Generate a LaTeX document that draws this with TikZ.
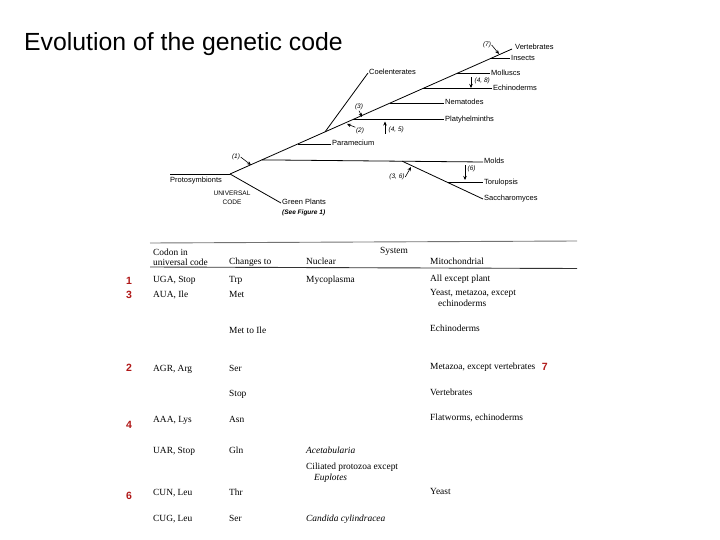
\documentclass[tikz,border=0pt]{standalone}
\usepackage{fontspec}
\setmainfont{Liberation Serif}
\setsansfont{Liberation Sans}
\usetikzlibrary{arrows.meta,positioning,calc}
\definecolor{numred}{HTML}{B01818}

\begin{document}
\begin{tikzpicture}[x=1pt, y=-1pt,
  branch/.style={line width=0.8pt},
  twig/.style={line width=0.6pt},
  taxon/.style={anchor=west, inner sep=1pt, text height=5.5pt, text depth=1.5pt, font=\sffamily\fontsize{7.5}{8}\selectfont},
  note/.style={inner sep=0.5pt, font=\sffamily\itshape\fontsize{6.5}{7}\selectfont},
  hint/.style={-{Stealth[length=4pt,width=3.5pt]}, line width=0.6pt},
  cell/.style={anchor=west, inner sep=0pt, align=left, text height=6.5pt, text depth=2pt, font=\fontsize{9.4}{11}\selectfont},
  rule/.style={line width=0.9pt, color=black!80},
  rownum/.style={inner sep=0pt, font=\sffamily\bfseries\fontsize{10.5}{10}\selectfont, text=numred}
]
\useasboundingbox (0,0) rectangle (720,540);

\node[anchor=west, inner sep=0pt, font=\sffamily\fontsize{24.8}{26}\selectfont] (title) at (24,44) {Evolution of the genetic code};

% tree
\coordinate (root) at (230,174);
\coordinate (vtip) at (512,49);
\coordinate (pend) at (170,174);
\coordinate (jmold) at ($(root)!0.113!(vtip)$);
\coordinate (jpar) at ($(root)!0.241!(vtip)$);
\coordinate (jcoe) at ($(root)!0.337!(vtip)$);
\coordinate (jpla) at ($(root)!0.436!(vtip)$);
\coordinate (jnem) at ($(root)!0.567!(vtip)$);
\coordinate (jech) at ($(root)!0.684!(vtip)$);
\coordinate (jmol) at ($(root)!0.805!(vtip)$);
\coordinate (jins) at ($(root)!0.922!(vtip)$);

\node[taxon] (vert) at (514,48) {Vertebrates};
\node[taxon] (ins) at (510,59) {Insects};
\node[taxon] (mol) at (490,73.5) {Molluscs};
\node[taxon] (ech) at (492,88.5) {Echinoderms};
\node[taxon] (nem) at (444,103) {Nematodes};
\node[taxon] (pla) at (444,119.5) {Platyhelminths};
\node[taxon] (coe) at (368,73) {Coelenterates};
\node[taxon] (par) at (331,144) {Paramecium};
\node[taxon] (molds) at (483,162) {Molds};
\node[taxon] (tor) at (483,182.7) {Torulopsis};
\node[taxon] (sac) at (483,199) {Saccharomyces};
\node[taxon] (proto) at (169,181) {Protosymbionts};
\node[taxon] (green) at (281,203) {Green Plants};
\node[taxon, font=\sffamily\bfseries\itshape\fontsize{6.5}{7}\selectfont, below=0.5pt of green.south west, anchor=north west] (seefig) {(See Figure 1)};
\node[inner sep=0pt, align=center, font=\sffamily\fontsize{6.5}{9}\selectfont] (ucode) at (232,198) {UNIVERSAL\\CODE};

\draw[branch] (pend) -- (root);
\draw[branch] (root) -- (vtip);
\draw[branch] (root) -- (green.west);
\draw[twig] (jins) -- (jins -| ins.west);
\draw[twig] (jmol) -- (jmol -| mol.west);
\draw[twig] (jech) -- (jech -| ech.west);
\draw[twig] (jnem) -- (jnem -| nem.west);
\draw[twig] (jpla) -- (jpla -| pla.west);
\draw[twig] (jpar) -- (jpar -| par.west);
\draw[branch] (jcoe) -- (coe.west);
\draw[branch] (jmold) -- (molds.west);
\coordinate (jsac) at ($(jmold)!0.635!(molds.west)$);
\draw[branch] (jsac) -- (sac.west);
\coordinate (jtor) at ($(jsac)!0.57!(sac.west)$);
\draw[twig] (jtor) -- (jtor -| tor.west);

% change markers
\node[note] (n1) at (236,157) {(1)};
\coordinate (t1) at (251,165);
\draw[hint] (n1.east) -- (t1);
\node[note] (n2) at (360,131) {(2)};
\coordinate (t2) at (347,124);
\draw[hint] (n2.north west) -- (t2);
\node[note] (n3) at (359,107) {(3)};
\coordinate (t3) at (362,117);
\draw[hint] (n3.south) -- (t3);
\node[note, anchor=west] (n45) at (388,130) {(4, 5)};
\coordinate (t45) at (385,121.5);
\draw[hint] (t45 |- n45.south) -- (t45);
\node[note, anchor=west] (n48) at (474,81) {(4, 8)};
\coordinate (t48) at (471,88);
\draw[hint] (t48 |- n48.north) -- (t48);
\node[note] (n7) at (487,45) {(7)};
\coordinate (t7) at (499,54);
\draw[hint] (n7.east) -- (t7);
\node[note, anchor=west] (n6) at (467,169) {(6)};
\coordinate (t6) at (465,180);
\draw[hint] (t6 |- n6.north) -- (t6);
\node[note] (n36) at (397,177) {(3, 6)};
\coordinate (t36) at (411,167);
\draw[hint] (n36.east) -- (t36);

% table
\coordinate (toprl) at (150,243);
\coordinate (toprr) at (577,241);
\coordinate (midrl) at (150,267);
\coordinate (midrr) at (577,268.5);
\draw[rule, color=black!55] (toprl) -- (toprr);
\draw[rule] (midrl) -- (midrr);

\node[cell, anchor=south west, text height=, text depth=, font=\fontsize{9.4}{10}\selectfont] (hcod) at (153,266) {Codon in\\universal code};
\node[cell] (hchg) at (229,262) {Changes to};
\node[cell] (hnuc) at (306,262) {Nuclear};
\node[cell] (hsys) at (380,251) {System};
\node[cell] (hmit) at (430,262) {Mitochondrial};

\node[cell] (cod1) at (153,280) {UGA, Stop};
\node[cell] (chg1) at (229,280) {Trp};
\node[cell] (nuc1) at (306,280) {Mycoplasma};
\node[cell] (mit1) at (430,279) {All except plant};

\node[cell] (cod2) at (153,295) {AUA, Ile};
\node[cell] (chg2) at (229,295) {Met};
\node[cell, anchor=north west, text height=] (mit2) at (430,289.5) {Yeast, metazoa, except\\\hspace*{8pt}echinoderms};

\node[cell] (chg3) at (229,331) {Met to Ile};
\node[cell] (mit3) at (430,329) {Echinoderms};

\node[cell] (cod4) at (153,369) {AGR, Arg};
\node[cell] (chg4) at (229,369) {Ser};
\node[cell] (mit4) at (430,367) {Metazoa, except vertebrates};

\node[cell] (chg5) at (229,394) {Stop};
\node[cell] (mit5) at (430,393) {Vertebrates};

\node[cell] (cod6) at (153,420) {AAA, Lys};
\node[cell] (chg6) at (229,420) {Asn};
\node[cell] (mit6) at (430,418) {Flatworms, echinoderms};

\node[cell] (cod7) at (153,451) {UAR, Stop};
\node[cell] (chg7) at (229,451) {Gln};
\node[cell] (nuc7) at (306,451) {\itshape Acetabularia};
\node[cell, anchor=north west, text height=] (nuc7b) at (306,462.5) {Ciliated protozoa except\\\hspace*{8pt}\itshape Euplotes};

\node[cell] (cod8) at (153,493) {CUN, Leu};
\node[cell] (chg8) at (229,493) {Thr};
\node[cell] (mit8) at (430,492) {Yeast};

\node[cell] (cod9) at (153,519) {CUG, Leu};
\node[cell] (chg9) at (229,519) {Ser};
\node[cell] (nuc9) at (306,519) {\itshape Candida cylindracea};

% figure references
\node[rownum] (k1) at (129,281) {1};
\node[rownum] (k3) at (129,295) {3};
\node[rownum] (k2) at (129,368) {2};
\node[rownum] (k4) at (129,425) {4};
\node[rownum] (k6) at (129,496) {6};
\node[rownum, right=6pt of mit4] (k7) {7};
\end{tikzpicture}
\end{document}
